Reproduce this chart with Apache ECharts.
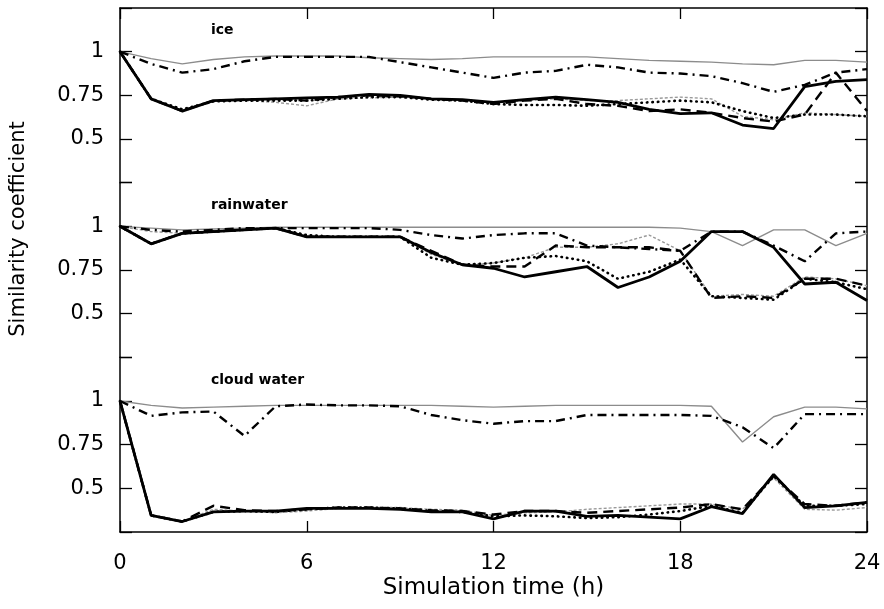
<!DOCTYPE html>
<html>
<head>
<meta charset="utf-8">
<script src="https://cdn.jsdelivr.net/npm/echarts@6/dist/echarts.min.js"></script>
<style>
html,body{margin:0;padding:0;background:#fff;}
#chart{width:884px;height:609px;}
</style>
</head>
<body>
<div id="chart"></div>
<script>
// ---- data (hourly, 0..24 h) ----
const hours = [0,1,2,3,4,5,6,7,8,9,10,11,12,13,14,15,16,17,18,19,20,21,22,23,24];
const xTicks = [0, 6, 12, 18, 24];
const yTickLabels = ['0.5', '0.75', '1'];
const panelNames = ['ice', 'rainwater', 'cloud water'];

// ice
const iceSolid    = [1.00,0.73,0.66,0.72,0.725,0.73,0.735,0.74,0.755,0.75,0.73,0.725,0.71,0.725,0.74,0.725,0.71,0.67,0.645,0.65,0.58,0.56,0.80,0.83,0.84];
const iceDotted   = [1.00,0.73,0.67,0.715,0.72,0.72,0.72,0.73,0.74,0.74,0.725,0.72,0.70,0.695,0.695,0.69,0.70,0.71,0.72,0.71,0.66,0.62,0.64,0.64,0.63];
const iceDashed   = [1.00,0.73,0.66,0.72,0.725,0.73,0.72,0.74,0.75,0.745,0.73,0.72,0.70,0.72,0.73,0.70,0.69,0.66,0.67,0.65,0.62,0.60,0.64,0.88,0.66];
const iceDashDot  = [1.00,0.93,0.88,0.90,0.945,0.97,0.97,0.97,0.97,0.94,0.91,0.88,0.85,0.88,0.89,0.925,0.91,0.88,0.875,0.86,0.82,0.77,0.81,0.88,0.90];
const iceGray     = [1.00,0.96,0.93,0.955,0.97,0.975,0.975,0.975,0.965,0.96,0.955,0.96,0.97,0.97,0.97,0.97,0.96,0.95,0.945,0.94,0.93,0.925,0.95,0.95,0.94];
const iceGrayDash = [1.00,0.73,0.665,0.72,0.72,0.71,0.69,0.73,0.735,0.74,0.73,0.72,0.71,0.72,0.73,0.72,0.72,0.73,0.74,0.73,0.63,0.61,0.65,0.64,0.63];

// rainwater
const rainSolid    = [1.00,0.90,0.96,0.97,0.98,0.99,0.94,0.94,0.94,0.94,0.85,0.78,0.76,0.71,0.74,0.77,0.65,0.71,0.80,0.97,0.97,0.88,0.67,0.68,0.575];
const rainDotted   = [1.00,0.90,0.96,0.97,0.98,0.99,0.95,0.94,0.94,0.94,0.82,0.78,0.79,0.82,0.83,0.80,0.70,0.74,0.81,0.60,0.59,0.58,0.70,0.68,0.64];
const rainDashed   = [1.00,0.90,0.96,0.97,0.98,0.99,0.94,0.94,0.94,0.94,0.86,0.78,0.77,0.77,0.89,0.88,0.88,0.88,0.86,0.59,0.60,0.59,0.70,0.70,0.66];
const rainDashDot  = [1.00,0.98,0.97,0.98,0.99,0.99,0.99,0.99,0.99,0.98,0.95,0.93,0.95,0.96,0.96,0.89,0.88,0.87,0.86,0.97,0.97,0.89,0.80,0.96,0.97];
const rainGray     = [1.00,0.99,0.98,0.985,0.99,0.995,0.995,0.995,0.995,0.995,0.995,0.995,0.995,0.995,0.995,0.995,0.995,0.995,0.99,0.97,0.89,0.98,0.98,0.89,0.96];
const rainGrayDash = [1.00,0.97,0.96,0.97,0.98,0.99,0.95,0.94,0.94,0.94,0.84,0.78,0.79,0.82,0.88,0.88,0.90,0.95,0.86,0.60,0.61,0.60,0.71,0.70,0.66];

// cloud water
const cloudSolid    = [1.00,0.345,0.31,0.365,0.37,0.37,0.385,0.385,0.385,0.38,0.365,0.365,0.325,0.37,0.37,0.34,0.345,0.335,0.325,0.395,0.355,0.58,0.39,0.40,0.42];
const cloudDotted   = [1.00,0.345,0.31,0.365,0.37,0.365,0.38,0.39,0.39,0.385,0.37,0.365,0.34,0.345,0.34,0.33,0.335,0.35,0.37,0.40,0.36,0.57,0.40,0.40,0.41];
const cloudDashed   = [1.00,0.345,0.31,0.40,0.375,0.37,0.38,0.39,0.39,0.385,0.375,0.37,0.35,0.37,0.37,0.36,0.37,0.38,0.39,0.41,0.38,0.57,0.41,0.40,0.42];
const cloudDashDot  = [1.00,0.915,0.935,0.94,0.80,0.97,0.98,0.975,0.975,0.97,0.92,0.89,0.87,0.885,0.885,0.92,0.92,0.92,0.92,0.915,0.85,0.73,0.925,0.925,0.925];
const cloudGray     = [1.00,0.975,0.96,0.965,0.97,0.975,0.975,0.975,0.975,0.975,0.975,0.97,0.965,0.97,0.975,0.975,0.975,0.975,0.975,0.97,0.765,0.91,0.965,0.965,0.955];
const cloudGrayDash = [1.00,0.345,0.31,0.38,0.37,0.36,0.37,0.385,0.39,0.39,0.38,0.375,0.345,0.36,0.365,0.38,0.39,0.40,0.41,0.41,0.38,0.56,0.38,0.375,0.39];

// ---- styles ----
const FONT = 'DejaVu Sans';
const styles = {
  solid:    {color:'#000', width:2.8, type:'solid'},
  dotted:   {color:'#000', width:2.6, type:[0.5,5], cap:'round'},
  dashed:   {color:'#000', width:2.4, type:[10,6]},
  dashDot:  {color:'#000', width:2.4, type:[9,5,2,5]},
  gray:     {color:'#8c8c8c', width:1.4, type:'solid'},
  grayDash: {color:'#9a9a9a', width:1.4, type:[3,2]}
};

const panels = [
  {solid:iceSolid, dotted:iceDotted, dashed:iceDashed, dashDot:iceDashDot, gray:iceGray, grayDash:iceGrayDash},
  {solid:rainSolid, dotted:rainDotted, dashed:rainDashed, dashDot:rainDashDot, gray:rainGray, grayDash:rainGrayDash},
  {solid:cloudSolid, dotted:cloudDotted, dashed:cloudDashed, dashDot:cloudDashDot, gray:cloudGray, grayDash:cloudGrayDash}
];

const LEFT = 120, RIGHT = 17, TOP = 8, PH = 174.67;
const grids = [0,1,2].map(i => ({left:LEFT, right:RIGHT, top:TOP + i*PH, height:PH}));

const xAxes = [0,1,2].map(i => ({
  type:'value', gridIndex:i, min:0, max:24, interval:6,
  position: i === 0 ? 'top' : 'bottom',
  show: i !== 1,
  axisLine:{show:true, onZero:false, lineStyle:{color:'#000', width:1.5}},
  axisTick:{show:true, inside:true, length:11, lineStyle:{color:'#000', width:1.3}},
  axisLabel:{show: i === 2, margin:21, color:'#000', fontFamily:FONT, fontSize:21,
    formatter: v => xTicks.indexOf(v) >= 0 ? String(v) : ''},
  splitLine:{show:false},
  name: i === 2 ? 'Simulation time (h)' : '',
  nameLocation:'middle', nameGap:45,
  nameTextStyle:{color:'#000', fontFamily:FONT, fontSize:23}
}));

const yAxes = [];
[0,1,2].forEach(i => {
  ['left','right'].forEach(pos => {
    yAxes.push({
      type:'value', gridIndex:i, position:pos, min:0.25, max:1.25, interval:0.25,
      axisLine:{show:true, onZero:false, lineStyle:{color:'#000', width:1.5}},
      axisTick:{show:true, inside:true, length:12, lineStyle:{color:'#000', width:1.3}},
      axisLabel:{show: pos === 'left', margin:16, color:'#000', fontFamily:FONT, fontSize:21,
        formatter: v => { const s = String(+v.toFixed(2)); return yTickLabels.indexOf(s) >= 0 ? s : ''; }},
      splitLine:{show:false}
    });
  });
});

const order = ['gray','grayDash','dashDot','dashed','dotted','solid'];
const series = [];
panels.forEach((p, i) => {
  order.forEach((k, j) => {
    series.push({
      type:'line', xAxisIndex:i, yAxisIndex:i*2, showSymbol:false, symbol:'none',
      z: 2 + j, lineStyle: styles[k], silent:true,
      data: hours.map((h, idx) => [h, p[k][idx]])
    });
  });
});

const graphic = [
  {type:'text', x:19, y:229, rotation:Math.PI/2,
   style:{text:'Similarity coefficient', fontFamily:FONT, fontSize:21, fill:'#000', align:'center', verticalAlign:'middle'}}
];
const labelPos = [30, 205, 380];
panelNames.forEach((n, i) => {
  graphic.push({type:'text', x:211, y:labelPos[i],
    style:{text:n, fontFamily:FONT, fontSize:14, fontWeight:'bold', fill:'#000', align:'left', verticalAlign:'middle'}});
});

const chart = echarts.init(document.getElementById('chart'), null, {renderer:'canvas'});
chart.setOption({
  animation:false,
  backgroundColor:'#fff',
  grid: grids,
  xAxis: xAxes,
  yAxis: yAxes,
  series: series,
  graphic: graphic
});
</script>
</body>
</html>
